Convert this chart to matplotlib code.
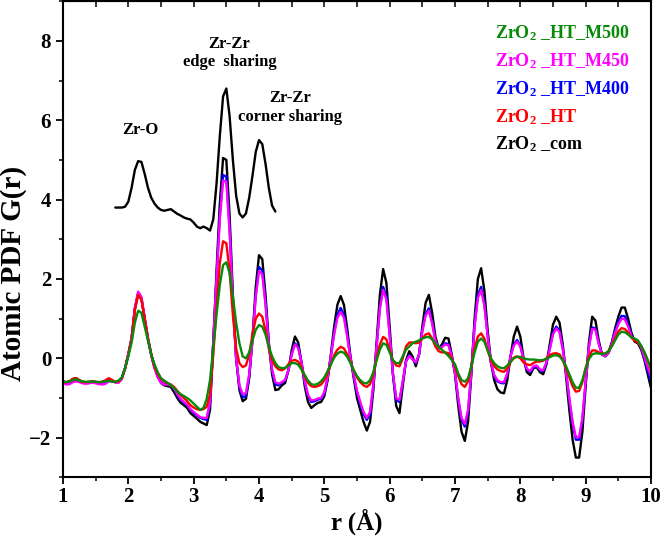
import matplotlib
matplotlib.use("Agg")
import matplotlib.pyplot as plt
import numpy as np
from matplotlib.ticker import MultipleLocator

plt.rcParams["font.family"] = "Liberation Serif"
plt.rcParams["font.weight"] = "bold"
plt.rcParams["mathtext.fontset"] = "custom"
plt.rcParams["mathtext.rm"] = "Liberation Serif:bold"
plt.rcParams["mathtext.it"] = "Liberation Serif:bold"
plt.rcParams["mathtext.bf"] = "Liberation Serif:bold"

# r grid, 1.00 ... 10.00 in steps of 0.05 A
r = np.linspace(1.0, 10.0, 181)

g_com = [
    -0.58, -0.60, -0.58, -0.52, -0.50, -0.55, -0.60, -0.62, -0.60, -0.58, -0.60, -0.62, -0.60, -0.57, -0.55, -0.58, -0.60, -0.58, -0.50, -0.25,
    0.10, 0.50, 1.25, 1.62, 1.50, 1.00, 0.50, 0.10, -0.22, -0.45, -0.62, -0.68, -0.70, -0.72, -0.85, -1.00, -1.12, -1.18, -1.25, -1.38,
    -1.45, -1.52, -1.60, -1.64, -1.68, -1.30, 0.40, 2.20, 3.90, 5.05, 5.00, 3.60, 1.60, 0.00, -0.80, -1.08, -1.02, -0.50, 0.50, 1.80,
    2.60, 2.50, 1.60, 0.40, -0.40, -0.80, -0.78, -0.68, -0.62, -0.30, 0.20, 0.55, 0.40, -0.10, -0.70, -1.10, -1.25, -1.18, -1.12, -1.10,
    -0.95, -0.55, 0.10, 0.80, 1.35, 1.57, 1.35, 0.75, 0.05, -0.50, -1.00, -1.30, -1.60, -1.82, -1.60, -0.80, 0.40, 1.60, 2.25, 1.90,
    0.80, -0.40, -1.20, -1.38, -0.70, -0.05, 0.18, 0.05, -0.20, 0.10, 0.80, 1.40, 1.60, 1.15, 0.55, 0.25, 0.35, 0.52, 0.50, 0.10,
    -0.40, -1.20, -1.85, -2.08, -1.60, -0.40, 1.00, 2.00, 2.27, 1.70, 0.70, -0.10, -0.55, -0.78, -0.86, -0.88, -0.55, 0.05, 0.55, 0.80,
    0.55, 0.00, -0.35, -0.42, -0.25, -0.22, -0.35, -0.40, -0.15, 0.35, 0.85, 1.05, 0.90, 0.35, -0.45, -1.30, -2.05, -2.50, -2.50, -1.85,
    -0.70, 0.40, 1.05, 0.95, 0.45, 0.10, 0.05, 0.15, 0.40, 0.75, 1.05, 1.28, 1.28, 1.00, 0.65, 0.42, 0.38, 0.22, -0.05, -0.40,
    -0.75,
]

g_m400 = [
    -0.60, -0.62, -0.60, -0.55, -0.52, -0.56, -0.60, -0.62, -0.61, -0.59, -0.61, -0.63, -0.61, -0.58, -0.56, -0.58, -0.60, -0.58, -0.50, -0.25,
    0.10, 0.50, 1.25, 1.64, 1.52, 1.00, 0.50, 0.10, -0.22, -0.45, -0.60, -0.65, -0.66, -0.68, -0.78, -0.92, -1.05, -1.12, -1.18, -1.30,
    -1.38, -1.44, -1.50, -1.53, -1.55, -1.15, 0.40, 2.05, 3.60, 4.62, 4.58, 3.30, 1.45, 0.00, -0.72, -0.98, -0.95, -0.45, 0.48, 1.60,
    2.30, 2.22, 1.40, 0.35, -0.30, -0.66, -0.68, -0.62, -0.56, -0.30, 0.10, 0.38, 0.28, -0.10, -0.60, -0.95, -1.10, -1.08, -1.04, -1.02,
    -0.88, -0.50, 0.05, 0.65, 1.10, 1.27, 1.10, 0.60, 0.00, -0.45, -0.85, -1.15, -1.40, -1.55, -1.40, -0.70, 0.30, 1.30, 1.80, 1.55,
    0.60, -0.40, -1.05, -1.10, -0.60, -0.08, 0.08, -0.02, -0.12, 0.10, 0.70, 1.12, 1.26, 0.92, 0.45, 0.25, 0.30, 0.38, 0.36, 0.05,
    -0.35, -1.05, -1.55, -1.72, -1.35, -0.35, 0.85, 1.60, 1.80, 1.38, 0.58, -0.10, -0.45, -0.58, -0.62, -0.63, -0.40, 0.05, 0.35, 0.46,
    0.32, -0.02, -0.28, -0.34, -0.22, -0.20, -0.30, -0.32, -0.12, 0.25, 0.65, 0.80, 0.70, 0.25, -0.35, -1.05, -1.65, -2.05, -2.05, -1.55,
    -0.60, 0.30, 0.78, 0.75, 0.38, 0.10, 0.06, 0.14, 0.38, 0.68, 0.92, 1.07, 1.06, 0.86, 0.58, 0.45, 0.42, 0.26, 0.00, -0.30,
    -0.60,
]

g_m450 = [
    -0.62, -0.66, -0.65, -0.60, -0.58, -0.60, -0.63, -0.64, -0.63, -0.61, -0.63, -0.65, -0.66, -0.64, -0.58, -0.56, -0.60, -0.62, -0.52, -0.25,
    0.12, 0.52, 1.28, 1.68, 1.55, 1.02, 0.50, 0.08, -0.25, -0.48, -0.62, -0.66, -0.66, -0.68, -0.76, -0.90, -1.02, -1.10, -1.16, -1.28,
    -1.35, -1.42, -1.48, -1.50, -1.50, -1.10, 0.40, 2.00, 3.50, 4.48, 4.45, 3.20, 1.40, 0.00, -0.68, -0.90, -0.88, -0.40, 0.46, 1.55,
    2.20, 2.12, 1.35, 0.35, -0.28, -0.60, -0.64, -0.60, -0.54, -0.30, 0.10, 0.35, 0.26, -0.10, -0.58, -0.92, -1.06, -1.05, -1.01, -1.00,
    -0.85, -0.48, 0.05, 0.60, 1.02, 1.17, 1.02, 0.55, 0.00, -0.42, -0.82, -1.10, -1.35, -1.50, -1.35, -0.65, 0.30, 1.25, 1.72, 1.48,
    0.58, -0.38, -1.00, -1.05, -0.58, -0.08, 0.06, -0.02, -0.10, 0.10, 0.68, 1.08, 1.20, 0.88, 0.44, 0.25, 0.28, 0.35, 0.33, 0.05,
    -0.35, -1.00, -1.50, -1.65, -1.30, -0.35, 0.80, 1.52, 1.72, 1.32, 0.55, -0.10, -0.42, -0.55, -0.60, -0.60, -0.38, 0.05, 0.32, 0.42,
    0.30, -0.02, -0.26, -0.32, -0.20, -0.18, -0.28, -0.30, -0.10, 0.22, 0.60, 0.75, 0.66, 0.22, -0.35, -1.00, -1.60, -1.98, -1.98, -1.50,
    -0.58, 0.28, 0.74, 0.72, 0.36, 0.10, 0.06, 0.14, 0.36, 0.64, 0.86, 1.00, 0.98, 0.80, 0.55, 0.46, 0.44, 0.28, 0.02, -0.22,
    -0.45,
]

g_ht = [
    -0.60, -0.60, -0.58, -0.52, -0.50, -0.55, -0.60, -0.60, -0.59, -0.58, -0.59, -0.60, -0.59, -0.55, -0.50, -0.54, -0.60, -0.58, -0.50, -0.25,
    0.10, 0.50, 1.22, 1.60, 1.48, 1.00, 0.50, 0.10, -0.20, -0.40, -0.52, -0.58, -0.62, -0.66, -0.72, -0.82, -0.92, -1.00, -1.08, -1.18,
    -1.24, -1.28, -1.30, -1.28, -1.22, -0.90, 0.10, 1.30, 2.40, 2.95, 2.90, 2.20, 1.10, 0.25, -0.12, -0.22, -0.18, 0.10, 0.60, 1.00,
    1.13, 1.05, 0.70, 0.25, -0.05, -0.20, -0.28, -0.30, -0.25, -0.15, -0.06, -0.04, -0.08, -0.25, -0.45, -0.62, -0.70, -0.72, -0.70, -0.66,
    -0.55, -0.38, -0.15, 0.08, 0.22, 0.29, 0.25, 0.10, -0.10, -0.30, -0.48, -0.60, -0.68, -0.72, -0.65, -0.40, 0.00, 0.35, 0.54, 0.48,
    0.20, -0.05, -0.18, -0.20, 0.00, 0.30, 0.40, 0.40, 0.38, 0.40, 0.50, 0.60, 0.63, 0.50, 0.30, 0.18, 0.15, 0.15, 0.13, 0.00,
    -0.20, -0.45, -0.65, -0.72, -0.58, -0.20, 0.25, 0.55, 0.63, 0.50, 0.20, -0.05, -0.20, -0.28, -0.32, -0.34, -0.25, -0.10, 0.02, 0.05,
    0.00, -0.10, -0.15, -0.17, -0.12, -0.08, -0.08, -0.06, 0.00, 0.08, 0.12, 0.13, 0.10, -0.05, -0.25, -0.48, -0.70, -0.84, -0.82, -0.60,
    -0.25, 0.05, 0.20, 0.20, 0.15, 0.12, 0.12, 0.18, 0.32, 0.50, 0.68, 0.76, 0.74, 0.65, 0.52, 0.45, 0.40, 0.30, 0.15, -0.05,
    -0.28,
]

g_m500 = [
    -0.58, -0.60, -0.58, -0.55, -0.53, -0.56, -0.58, -0.59, -0.59, -0.58, -0.59, -0.60, -0.59, -0.58, -0.57, -0.58, -0.59, -0.56, -0.48, -0.25,
    0.05, 0.40, 0.90, 1.20, 1.15, 0.80, 0.45, 0.10, -0.15, -0.35, -0.50, -0.56, -0.62, -0.68, -0.75, -0.84, -0.90, -0.95, -1.00, -1.06,
    -1.14, -1.22, -1.30, -1.25, -1.02, -0.55, 0.25, 1.10, 1.85, 2.35, 2.42, 2.15, 1.55, 0.90, 0.38, 0.05, 0.00, 0.15, 0.45, 0.72,
    0.84, 0.80, 0.60, 0.30, 0.05, -0.12, -0.22, -0.25, -0.24, -0.18, -0.12, -0.12, -0.16, -0.28, -0.42, -0.56, -0.65, -0.67, -0.64, -0.58,
    -0.48, -0.32, -0.15, 0.02, 0.12, 0.17, 0.14, 0.04, -0.12, -0.30, -0.45, -0.55, -0.62, -0.63, -0.55, -0.35, -0.05, 0.22, 0.38, 0.34,
    0.15, -0.05, -0.12, -0.12, 0.05, 0.22, 0.30, 0.38, 0.42, 0.45, 0.50, 0.53, 0.54, 0.48, 0.38, 0.28, 0.22, 0.14, 0.06, -0.04,
    -0.15, -0.38, -0.55, -0.59, -0.50, -0.20, 0.15, 0.42, 0.50, 0.42, 0.20, 0.00, -0.12, -0.20, -0.24, -0.25, -0.18, -0.08, 0.00, 0.04,
    0.04, 0.00, -0.02, -0.03, -0.03, -0.04, -0.05, -0.04, -0.01, 0.03, 0.07, 0.08, 0.05, -0.05, -0.20, -0.40, -0.60, -0.74, -0.74, -0.55,
    -0.25, -0.02, 0.10, 0.13, 0.12, 0.11, 0.12, 0.18, 0.30, 0.45, 0.60, 0.67, 0.66, 0.60, 0.53, 0.50, 0.45, 0.32, 0.15, -0.05,
    -0.25,
]

# offset reference curve (ZrO2_com, short range), r = 1.80 ... 4.25
r_ref = np.linspace(1.80, 4.25, 50)
g_ref = [
    3.80, 3.80, 3.80, 3.82,
    3.95, 4.30, 4.75, 4.97, 4.95, 4.65, 4.30, 4.05, 3.90, 3.80, 3.74, 3.72, 3.74, 3.76, 3.70, 3.64, 3.60, 3.55, 3.52, 3.50,
    3.42, 3.32, 3.28, 3.32, 3.28, 3.22, 3.50, 4.40, 5.60, 6.60, 6.80, 6.10, 5.00, 4.10, 3.65, 3.55, 3.65, 4.05, 4.60, 5.20,
    5.50, 5.40, 4.90, 4.30, 3.85, 3.70,
]

series = [
    ("ZrO$_2$ _com", g_com, "black"),
    ("ZrO$_2$ _HT_M400", g_m400, "#0000ff"),
    ("ZrO$_2$ _HT_M450", g_m450, "#ff00ff"),
    ("ZrO$_2$ _HT", g_ht, "#ff0000"),
    ("ZrO$_2$ _HT_M500", g_m500, "#078a07"),
]

fig = plt.figure(figsize=(6.64, 5.43), dpi=100)
ax = fig.add_axes([0.0949, 0.1208, 0.8855, 0.877])

line_kw = dict(lw=1.7, solid_joinstyle="round", solid_capstyle="round")
for label, g, color in series:
    ax.plot(r, g, color=color, **line_kw)
ax.plot(r_ref, g_ref, color="black", **line_kw)

# labels in the upper right, top to bottom
legend_order = [4, 2, 1, 3, 0]
for i, idx in enumerate(legend_order):
    label, _, color = series[idx]
    ax.text(0.735, 0.933 - i * 0.0585, label, color=color, fontsize=13,
            fontweight="bold", ha="left", va="center", transform=ax.transAxes)

ax.text(2.18, 5.75, "Zr-O", fontsize=12, fontweight="bold", ha="center", va="center")
ax.text(3.55, 7.69, "Zr-Zr\nedge  sharing", fontsize=12, fontweight="bold",
        ha="center", va="center", linespacing=1.2)
ax.text(4.47, 6.32, "Zr-Zr\ncorner sharing", fontsize=12, fontweight="bold",
        ha="center", va="center", linespacing=1.2)

ax.set_xlim(1, 10)
ax.set_ylim(-3, 9)
ax.xaxis.set_major_locator(MultipleLocator(1))
ax.xaxis.set_minor_locator(MultipleLocator(0.5))
ax.yaxis.set_major_locator(MultipleLocator(2))
ax.yaxis.set_minor_locator(MultipleLocator(1))

ax.tick_params(axis="x", which="both", direction="out", top=False, pad=2)
ax.tick_params(axis="y", which="both", direction="out", right=False)
ax.tick_params(which="major", length=5, width=1.3, labelsize=15)
ax.tick_params(which="minor", length=3, width=1.1)

# inward ticks on the top spine
top = ax.secondary_xaxis("top")
top.xaxis.set_major_locator(MultipleLocator(0.5))
top.tick_params(direction="in", length=4, width=1.1, labeltop=False)

for sp in ax.spines.values():
    sp.set_linewidth(1.5)

ax.set_xlabel("r (Å)", fontsize=18, fontweight="bold", labelpad=1)
ax.set_ylabel("Atomic PDF G(r)", fontsize=21, fontweight="bold")
ax.yaxis.set_label_coords(-0.061, 0.428)

fig.savefig("out.png", dpi=100)
